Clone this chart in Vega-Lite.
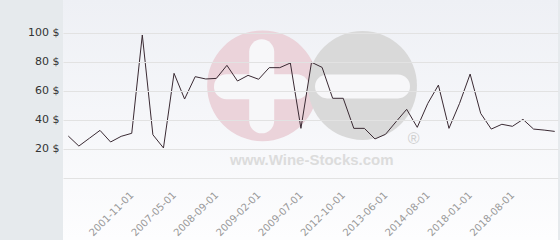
{
  "$schema": "https://vega.github.io/schema/vega-lite/v6.json",
  "autosize": {"type": "none"},
  "padding": {"left": 63, "top": 0, "right": 2, "bottom": 0},
  "width": 495,
  "height": 240,
  "background": "#e6eaed",
  "config": {
    "view": {
      "stroke": null,
      "fill": {"gradient": "linear", "x1": 0, "y1": 0, "x2": 0, "y2": 1, "stops": [{"offset": 0, "color": "#eef0f5"}, {"offset": 1, "color": "#fdfdfe"}]}
    }
  },
  "datasets": {
    "prices": [
      {"i": 0, "v": 28.7}, {"i": 1, "v": 21.8}, {"i": 2, "v": 27.2}, {"i": 3, "v": 32.6},
      {"i": 4, "v": 24.6}, {"i": 5, "v": 28.5}, {"i": 6, "v": 30.6}, {"i": 7, "v": 98.3},
      {"i": 8, "v": 29.6}, {"i": 9, "v": 20.5}, {"i": 10, "v": 71.9}, {"i": 11, "v": 54.2},
      {"i": 12, "v": 69.6}, {"i": 13, "v": 68.0}, {"i": 14, "v": 68.4}, {"i": 15, "v": 77.4},
      {"i": 16, "v": 66.6}, {"i": 17, "v": 70.5}, {"i": 18, "v": 67.8}, {"i": 19, "v": 75.8},
      {"i": 20, "v": 75.8}, {"i": 21, "v": 79.0}, {"i": 22, "v": 34.0}, {"i": 23, "v": 79.5},
      {"i": 24, "v": 76.0}, {"i": 25, "v": 54.7}, {"i": 26, "v": 54.7}, {"i": 27, "v": 34.0},
      {"i": 28, "v": 34.0}, {"i": 29, "v": 26.7}, {"i": 30, "v": 29.9}, {"i": 31, "v": 38.6},
      {"i": 32, "v": 47.1}, {"i": 33, "v": 34.7}, {"i": 34, "v": 51.2}, {"i": 35, "v": 63.8},
      {"i": 36, "v": 34.0}, {"i": 37, "v": 51.2}, {"i": 38, "v": 71.4}, {"i": 39, "v": 44.3},
      {"i": 40, "v": 33.5}, {"i": 41, "v": 36.8}, {"i": 42, "v": 35.4}, {"i": 43, "v": 40.2},
      {"i": 44, "v": 33.5}, {"i": 45, "v": 32.8}, {"i": 46, "v": 31.9}
    ]
  },
  "encoding": {
    "x": {
      "field": "i", "type": "quantitative",
      "scale": {"domain": [-0.5, 46.31], "nice": false, "zero": false},
      "axis": {
        "title": null, "orient": "bottom", "offset": -62, "domain": false, "ticks": false, "grid": false,
        "values": [6, 10, 14, 18, 22, 26, 30, 34, 38, 42],
        "labelExpr": "{'6':'2001-11-01','10':'2007-05-01','14':'2008-09-01','18':'2009-02-01','22':'2009-07-01','26':'2012-10-01','30':'2013-06-01','34':'2014-08-01','38':'2018-01-01','42':'2018-08-01'}[datum.value]",
        "labelAngle": -45, "labelAlign": "right", "labelBaseline": "middle",
        "labelFont": "DejaVu Sans", "labelFontSize": 10, "labelColor": "#999999",
        "labelPadding": 15, "labelOverlap": false, "labelFlush": false
      }
    },
    "y": {
      "field": "v", "type": "quantitative",
      "scale": {"domain": [-42.9, 122.4], "nice": false, "zero": false},
      "axis": {
        "title": null, "domain": false, "ticks": false, "grid": true, "gridColor": "#e2e2e2", "gridWidth": 1,
        "values": [0, 20, 40, 60, 80, 100],
        "labelExpr": "datum.value == 0 ? '' : datum.value + ' $'",
        "labelFont": "DejaVu Sans", "labelFontSize": 11, "labelColor": "#333333", "labelPadding": 4,
        "zindex": 1
      }
    }
  },
  "layer": [
    {
      "data": {"values": [{"i": 18.37, "v": 63.3}]},
      "mark": {"type": "point", "shape": "circle", "filled": true, "size": 12272, "color": "#ebd3da", "opacity": 1}
    },
    {
      "data": {"values": [{"i": 18.29, "v": 86.7, "i2": 18.29, "v2": 39.2}, {"i": 14.96, "v": 62.7, "i2": 21.58, "v2": 62.7}]},
      "mark": {"type": "rule", "strokeWidth": 25, "strokeCap": "round", "color": "#f7f7f9"},
      "encoding": {"x2": {"field": "i2"}, "y2": {"field": "v2"}}
    },
    {
      "data": {"values": [{"i": 27.82, "v": 63.5}]},
      "mark": {"type": "point", "shape": "circle", "filled": true, "size": 11882, "color": "#d9d9d9", "opacity": 1}
    },
    {
      "data": {"values": [{"i": 24.47, "v": 62.9, "i2": 31.18, "v2": 62.9}]},
      "mark": {"type": "rule", "strokeWidth": 24, "strokeCap": "round", "color": "#f7f7f9"},
      "encoding": {"x2": {"field": "i2"}, "y2": {"field": "v2"}}
    },
    {
      "data": {"values": [{"i": 23.03, "v": 12.2, "label": "www.Wine-Stocks.com"}]},
      "mark": {"type": "text", "font": "Liberation Sans", "fontWeight": "bold", "fontSize": 15, "color": "#dcdcdc", "align": "center", "baseline": "middle"},
      "encoding": {"text": {"field": "label"}}
    },
    {
      "data": {"values": [{"i": 32.65, "v": 26.7, "label": "®"}]},
      "mark": {"type": "text", "font": "Liberation Sans", "fontSize": 16, "color": "#d0d0d0", "align": "center", "baseline": "middle"},
      "encoding": {"text": {"field": "label"}}
    },
    {
      "data": {"name": "prices"},
      "mark": {"type": "line", "color": "#3a2a33", "strokeWidth": 1, "interpolate": "linear"}
    }
  ]
}
